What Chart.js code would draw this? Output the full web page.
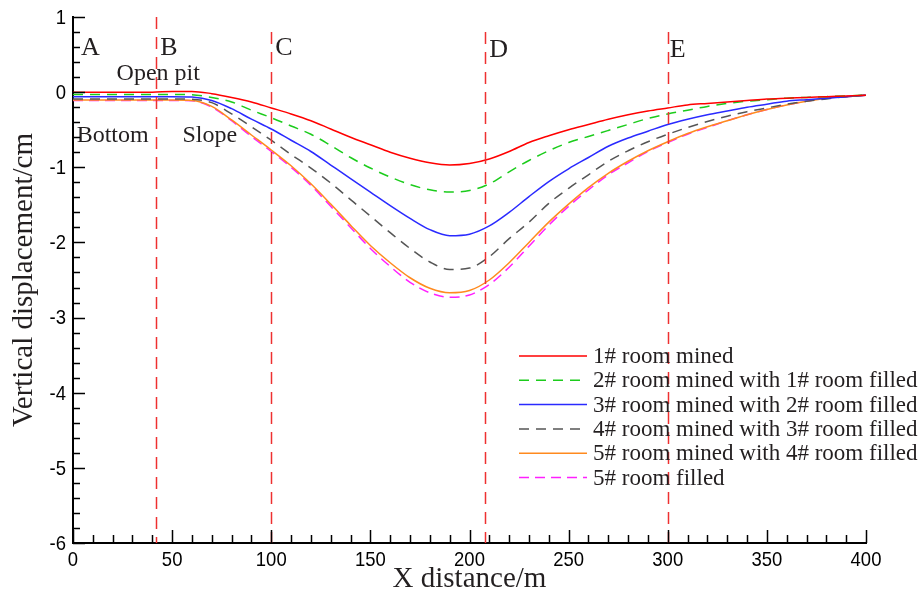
<!DOCTYPE html>
<html>
<head>
<meta charset="utf-8">
<script src="https://cdn.jsdelivr.net/npm/chart.js@4.4.1/dist/chart.umd.min.js"></script>
<style>
html, body { margin: 0; padding: 0; background: #fff; }
#wrap { width: 921px; height: 592px; }
</style>
</head>
<body>
<div id="wrap"><canvas id="chart" width="921" height="592"></canvas></div>
<script>
// X distance along the section (m)
var xDist = [0, 10, 20, 30, 40, 50, 60, 70, 80, 90, 100, 110, 120, 130, 140, 150, 160, 170, 180, 190, 200,
             210, 220, 230, 240, 250, 260, 270, 280, 290, 300, 310, 320, 330, 340, 350, 360, 370, 380, 390, 400];

// vertical displacement (cm)
var room1Mined = [0.0, 0.0, 0.0, 0.0, 0.0, 0.01, 0.01, -0.02, -0.07, -0.13, -0.21, -0.29, -0.38, -0.49, -0.60, -0.70, -0.80, -0.88, -0.94, -0.97, -0.95,
                  -0.89, -0.79, -0.67, -0.58, -0.50, -0.43, -0.36, -0.30, -0.25, -0.21, -0.17, -0.15, -0.13, -0.11, -0.09, -0.08, -0.07, -0.06, -0.05, -0.04];
var room2Mined = [-0.03, -0.03, -0.03, -0.03, -0.03, -0.03, -0.035, -0.07, -0.13, -0.24, -0.34, -0.45, -0.56, -0.71, -0.87, -1.01, -1.13, -1.23, -1.30, -1.33, -1.31,
                  -1.22, -1.06, -0.91, -0.78, -0.67, -0.59, -0.51, -0.43, -0.35, -0.29, -0.24, -0.19, -0.15, -0.12, -0.10, -0.08, -0.07, -0.06, -0.05, -0.04];
var room3Mined = [-0.06, -0.06, -0.06, -0.06, -0.06, -0.06, -0.065, -0.11, -0.22, -0.36, -0.49, -0.64, -0.79, -0.97, -1.15, -1.33, -1.51, -1.68, -1.83, -1.91, -1.89,
                  -1.78, -1.60, -1.39, -1.19, -1.02, -0.87, -0.72, -0.61, -0.52, -0.43, -0.36, -0.30, -0.25, -0.20, -0.16, -0.12, -0.10, -0.08, -0.06, -0.04];
var room4Mined = [-0.09, -0.09, -0.09, -0.09, -0.09, -0.09, -0.095, -0.14, -0.29, -0.46, -0.64, -0.83, -1.01, -1.21, -1.43, -1.65, -1.87, -2.08, -2.26, -2.36, -2.34,
                  -2.19, -1.95, -1.73, -1.48, -1.28, -1.10, -0.92, -0.78, -0.66, -0.56, -0.47, -0.39, -0.32, -0.26, -0.21, -0.16, -0.12, -0.09, -0.06, -0.04];
var room5Mined = [-0.105, -0.105, -0.105, -0.105, -0.105, -0.105, -0.11, -0.19, -0.37, -0.57, -0.77, -0.98, -1.22, -1.49, -1.77, -2.04, -2.27, -2.47, -2.61, -2.67, -2.64,
                  -2.50, -2.27, -2.00, -1.73, -1.49, -1.27, -1.08, -0.92, -0.78, -0.66, -0.55, -0.46, -0.38, -0.30, -0.23, -0.17, -0.12, -0.08, -0.06, -0.04];
var room5Filled = [-0.11, -0.11, -0.11, -0.11, -0.11, -0.11, -0.115, -0.20, -0.38, -0.59, -0.79, -1.00, -1.24, -1.52, -1.80, -2.08, -2.32, -2.53, -2.67, -2.73, -2.70,
                   -2.56, -2.33, -2.05, -1.77, -1.52, -1.30, -1.10, -0.94, -0.79, -0.67, -0.56, -0.47, -0.38, -0.30, -0.23, -0.17, -0.12, -0.08, -0.06, -0.04];

var seriesNames = ['1# room mined', '2# room mined with 1# room filled', '3# room mined with 2# room filled',
                   '4# room mined with 3# room filled', '5# room mined with 4# room filled', '5# room filled'];
var seriesColors = ['#ff0000', '#1ccc1c', '#2a2aff', '#555555', '#ff8a1e', '#ff20ff'];
var seriesDashes = [[], [10, 7], [], [10, 7], [], [10, 6]];

// section markers
var sectionX = [42, 100, 208, 300];
var pointNames = ['A', 'B', 'C', 'D', 'E'];
var pointNameX = [4, 44, 102, 210, 301];
// region labels: text, x (m), y (cm)
var regionText = ['Open pit', 'Bottom', 'Slope'];
var regionX = [43, 20, 69];
var regionY = [0.16, -0.665, -0.665];

var xTicks = [0, 50, 100, 150, 200, 250, 300, 350, 400];
var yTicks = [1, 0, -1, -2, -3, -4, -5, -6];

var serif = "'Liberation Serif', 'Times New Roman', serif";
var sans = "'Liberation Sans', Arial, sans-serif";
var ink = '#231f20';

function toPoints(ys) {
    return xDist.map(function(x, i) { return { x: x, y: ys[i] }; });
}

var allSeries = [room1Mined, room2Mined, room3Mined, room4Mined, room5Mined, room5Filled];
var datasets = allSeries.map(function(ys, i) {
    return {
        label: seriesNames[i],
        data: toPoints(ys),
        borderColor: seriesColors[i],
        borderWidth: 1.5,
        borderDash: seriesDashes[i],
        pointRadius: 0,
        fill: false,
        cubicInterpolationMode: 'monotone'
    };
});

// vertical dashed lines and labels
var sectionPlugin = {
    id: 'sections',
    afterDatasetsDraw: function(chart) {
        var ctx = chart.ctx, xs = chart.scales.x, ys = chart.scales.y;
        ctx.save();
        ctx.strokeStyle = '#ee3030';
        ctx.lineWidth = 1.5;
        ctx.setLineDash([12, 8]);
        sectionX.forEach(function(v, i) {
            var px = Math.round(xs.getPixelForValue(v)) + 0.5;
            ctx.beginPath();
            ctx.moveTo(px, ys.getPixelForValue(i === 0 ? 1 : 0.8));
            ctx.lineTo(px, ys.getPixelForValue(-6));
            ctx.stroke();
        });
        ctx.setLineDash([]);
        ctx.fillStyle = ink;
        ctx.textBaseline = 'alphabetic';
        ctx.textAlign = 'left';
        ctx.font = '26px ' + serif;
        pointNames.forEach(function(t, i) {
            ctx.fillText(t, xs.getPixelForValue(pointNameX[i]), ys.getPixelForValue(i < 3 ? 0.5 : 0.47));
        });
        ctx.font = '24px ' + serif;
        ctx.textAlign = 'center';
        regionText.forEach(function(t, i) {
            ctx.fillText(t, xs.getPixelForValue(regionX[i]), ys.getPixelForValue(regionY[i]));
        });
        ctx.restore();
    }
};

// inward major / minor ticks and slightly condensed tick labels
var tickPlugin = {
    id: 'inTicks',
    afterDraw: function(chart) {
        var ctx = chart.ctx, xs = chart.scales.x, ys = chart.scales.y, a = chart.chartArea;
        ctx.save();
        ctx.strokeStyle = '#000';
        ctx.lineWidth = 1.5;
        ctx.beginPath();
        for (var v = 0; v <= 400; v += 10) {
            var px = Math.round(xs.getPixelForValue(v)) + 0.5;
            var len = (v % 50 === 0) ? 13 : 8;
            ctx.moveTo(px, a.bottom);
            ctx.lineTo(px, a.bottom - len);
        }
        for (var k = -30; k <= 5; k++) {
            var py = Math.round(ys.getPixelForValue(k / 5)) + 0.5;
            var l2 = (k % 5 === 0) ? 12 : 7;
            ctx.moveTo(a.left, py);
            ctx.lineTo(a.left + l2, py);
        }
        ctx.stroke();

        ctx.fillStyle = '#000';
        ctx.font = '21px ' + sans;
        ctx.textBaseline = 'middle';
        ctx.textAlign = 'center';
        xTicks.forEach(function(t) {
            ctx.save();
            ctx.translate(xs.getPixelForValue(t), a.bottom + 17);
            ctx.scale(0.88, 1);
            ctx.fillText(String(t), 0, 0);
            ctx.restore();
        });
        ctx.textAlign = 'right';
        yTicks.forEach(function(t) {
            ctx.save();
            ctx.translate(a.left - 7, ys.getPixelForValue(t) + 1);
            ctx.scale(0.88, 1);
            ctx.fillText(String(t), 0, 0);
            ctx.restore();
        });
        ctx.restore();
    }
};

// legend drawn inside the plot
var legendPlugin = {
    id: 'innerLegend',
    afterDraw: function(chart) {
        var ctx = chart.ctx;
        ctx.save();
        ctx.font = '23px ' + serif;
        ctx.textBaseline = 'middle';
        ctx.textAlign = 'left';
        chart.data.datasets.forEach(function(ds, i) {
            var y = 356 + i * 24.3;
            ctx.strokeStyle = ds.borderColor;
            ctx.lineWidth = 1.5;
            ctx.setLineDash(ds.borderDash);
            ctx.beginPath();
            ctx.moveTo(519, y);
            ctx.lineTo(587, y);
            ctx.stroke();
            ctx.setLineDash([]);
            ctx.fillStyle = ink;
            ctx.fillText(ds.label, 593, y + 1);
        });
        ctx.restore();
    }
};

var ctx = document.getElementById('chart').getContext('2d');
var myChart = new Chart(ctx, {
    type: 'line',
    data: { datasets: datasets },
    options: {
        responsive: false,
        animation: false,
        layout: { padding: { top: 17, right: 55, bottom: 0, left: 0 } },
        plugins: { legend: { display: false }, tooltip: { enabled: false } },
        scales: {
            x: {
                type: 'linear',
                min: 0, max: 400,
                afterBuildTicks: function(s) { s.ticks = xTicks.map(function(v) { return { value: v }; }); },
                afterFit: function(s) { s.height = 49; },
                ticks: { display: false },
                grid: { display: false, drawTicks: false },
                border: { display: true, color: '#000', width: 2 },
                title: { display: true, text: 'X distance/m', color: ink, font: { family: serif, size: 29 }, padding: { top: 0, bottom: -5 } }
            },
            y: {
                type: 'linear',
                min: -6, max: 1,
                afterBuildTicks: function(s) { s.ticks = yTicks.map(function(v) { return { value: v }; }); },
                afterFit: function(s) { s.width = 73; },
                ticks: { display: false },
                grid: { display: false, drawTicks: false },
                border: { display: true, color: '#000', width: 2 },
                title: { display: true, text: 'Vertical displacement/cm', color: ink, font: { family: serif, size: 29 }, padding: { top: 7, bottom: 0 } }
            }
        }
    },
    plugins: [sectionPlugin, tickPlugin, legendPlugin]
});
</script>
</body>
</html>
